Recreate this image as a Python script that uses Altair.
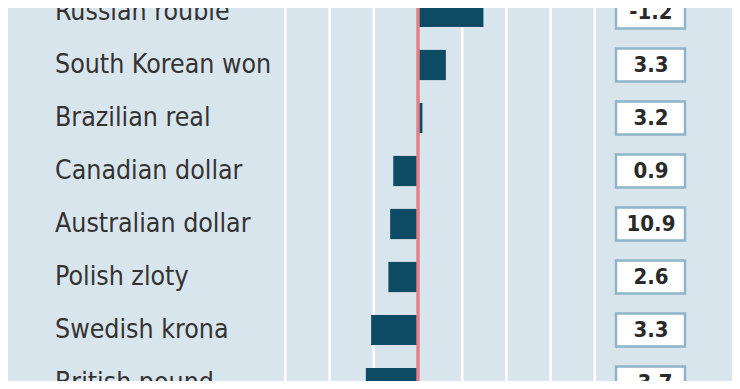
import altair as alt
import pandas as pd

currencies = ["Russian rouble", "South Korean won", "Brazilian real", "Canadian dollar",
              "Australian dollar", "Polish zloty", "Swedish krona", "British pound"]
changes = [14.8, 6.3, 1.0, -5.6, -6.3, -6.7, -10.6, -11.8]
boxed = ["-1.2", "3.3", "3.2", "0.9", "10.9", "2.6", "3.3", "-3.7"]
grid_values = [-30, -20, -10, 0, 10, 20, 30, 40]

df = pd.DataFrame({
    "currency": currencies,
    "change": changes,
    "boxed": boxed,
    "row": list(range(len(currencies))),
})

BG = "#d9e5ec"
BAR = "#0d4a63"
RED = "#e57f86"
BOX = "#8db4c8"
LABEL_FONT = "Liberation Sans Narrow, DejaVu Sans Condensed, sans-serif"

W, H = 724, 373
xscale = alt.Scale(domain=[-92.76, 71.04], nice=False, zero=False)
yscale = alt.Scale(domain=[-0.0755, 6.962], nice=False, zero=False, reverse=True)

base = alt.Chart(df)

grid = alt.Chart(pd.DataFrame({"g": grid_values})).mark_rule(
    color="white", strokeWidth=2.5
).encode(x=alt.X("g:Q", scale=xscale, axis=None))

bars = base.transform_calculate(
    lo="datum.row - 0.285", hi="datum.row + 0.285"
).mark_rect(color=BAR, clip=True).encode(
    x=alt.X("change:Q", scale=xscale, axis=None),
    x2=alt.datum(0),
    y=alt.Y("lo:Q", scale=yscale, axis=None),
    y2="hi:Q",
)

zero = alt.Chart(pd.DataFrame({"z": [0]})).mark_rule(
    color=RED, strokeWidth=3.5
).encode(x=alt.X("z:Q", scale=xscale, axis=None))

labels = base.mark_text(
    align="left", baseline="middle", font=LABEL_FONT, fontSize=26.5, color="#333333", clip=True
).encode(
    x=alt.value(47),
    y=alt.Y("row:Q", scale=yscale, axis=None),
    text="currency:N",
)

boxes = base.transform_calculate(
    lo="datum.row - 0.31", hi="datum.row + 0.31"
).mark_rect(fill="white", stroke=BOX, strokeWidth=2.5, clip=True).encode(
    x=alt.value(608),
    x2=alt.value(677),
    y=alt.Y("lo:Q", scale=yscale, axis=None),
    y2="hi:Q",
)

box_text = base.mark_text(
    align="center", baseline="middle", font="DejaVu Sans Condensed", fontSize=22,
    fontWeight="bold", color="#2a2a2a", clip=True
).encode(
    x=alt.value(643),
    y=alt.Y("row:Q", scale=yscale, axis=None),
    text="boxed:N",
)

chart = alt.layer(grid, bars, zero, labels, boxes, box_text).properties(
    width=W, height=H, background=BG, padding=0, autosize="none"
).configure_view(stroke=None, fill=BG)

chart.save("out.html", embed_options={"renderer": "svg", "actions": False})
